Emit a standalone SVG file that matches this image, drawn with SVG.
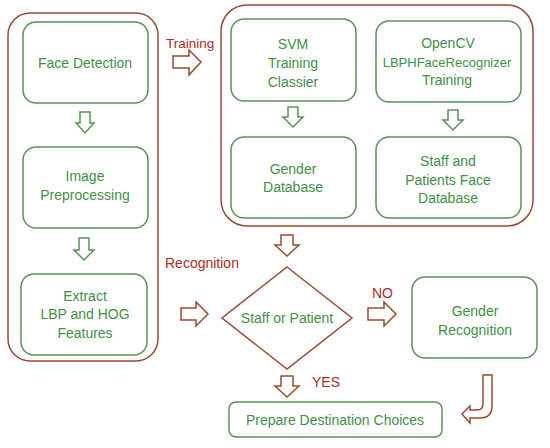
<svg xmlns="http://www.w3.org/2000/svg" width="550" height="448" viewBox="0 0 550 448">
<style>
.outer{fill:none;stroke:#9a4a32;stroke-width:1.5}
.box{fill:#fff;stroke:#5a925a;stroke-width:1.5}
.t{font-family:"Liberation Sans",Arial,sans-serif;font-size:14px;fill:#3f8f46;text-anchor:middle;dominant-baseline:central}
.lbl{font-family:"Liberation Sans",Arial,sans-serif;font-size:14px;fill:#b02a22;dominant-baseline:central}
.ga{fill:#fff;stroke:#5a925a;stroke-width:1.5;stroke-linejoin:miter}
.ba{fill:#fff;stroke:#9a4a32;stroke-width:1.5;stroke-linejoin:miter}
</style>
<rect width="550" height="448" fill="#fff"/>
<g id="left-group"><rect class="outer" x="8" y="13" width="150" height="348" rx="22"/></g>
<g id="right-group"><rect class="outer" x="221" y="5" width="312" height="221" rx="26"/></g>
<g id="face-detection"><rect class="box" x="23" y="22" width="125" height="81" rx="13"/><text class="t" x="85" y="63">Face Detection</text></g>
<g id="image-preprocessing"><rect class="box" x="23" y="147" width="125" height="81" rx="13"/><text class="t" x="85" y="176">Image</text><text class="t" x="85" y="195">Preprocessing</text></g>
<g id="extract"><rect class="box" x="21" y="274" width="126" height="81" rx="13"/><text class="t" x="85" y="296">Extract</text><text class="t" x="85" y="314">LBP and HOG</text><text class="t" x="85" y="333">Features</text></g>
<g id="svm"><rect class="box" x="231" y="19" width="125" height="82" rx="13"/><text class="t" x="293" y="44">SVM</text><text class="t" x="293" y="63">Training</text><text class="t" x="293" y="82">Classier</text></g>
<g id="opencv"><rect class="box" x="376" y="21" width="145" height="81" rx="13"/><text class="t" x="448" y="43">OpenCV</text><text class="t" x="447" y="62" style="font-size:13px">LBPHFaceRecognizer</text><text class="t" x="447" y="80">Training</text></g>
<g id="gender-db"><rect class="box" x="231" y="137" width="125" height="81" rx="13"/><text class="t" x="293" y="169">Gender</text><text class="t" x="293" y="187">Database</text></g>
<g id="face-db"><rect class="box" x="376" y="137" width="145" height="81" rx="13"/><text class="t" x="448" y="161">Staff and</text><text class="t" x="448" y="180">Patients Face</text><text class="t" x="448" y="198">Database</text></g>
<g id="decision"><polygon points="287,267 352,318 287,369 222,318" fill="#fff" stroke="#9a4a32" stroke-width="1.5"/><text class="t" x="287" y="318">Staff or Patient</text></g>
<g id="gender-recognition"><rect class="box" x="412" y="277" width="125" height="81" rx="13"/><text class="t" x="475" y="311">Gender</text><text class="t" x="475" y="330">Recognition</text></g>
<g id="prepare"><rect class="box" x="229" y="402" width="213" height="35" rx="7"/><text class="t" x="335" y="420">Prepare Destination Choices</text></g>
<g id="connectors">
<path class="ga" d="M80,112 H90 V123 H94 L85,133 L76,123 H80 Z"/>
<path class="ga" d="M79,238 H89 V250 H94 L84,260 L74,250 H79 Z"/>
<path class="ga" d="M288,107 H298 V117 H303 L293,127 L283,117 H288 Z"/>
<path class="ga" d="M448,110 H458 V120 H463 L453,130 L443,120 H448 Z"/>
<path class="ba" d="M281,235 H293 V245 H299 L287,256 L275,245 H281 Z"/>
<path class="ba" d="M281,376 H293 V386 H299 L287,397 L275,386 H281 Z"/>
<path class="ba" d="M173,56 H189 V50 L201,62 L189,75 V68 H173 Z"/>
<path class="ba" d="M181,308 H196 V302 L208,314 L196,326 V320 H181 Z"/>
<path class="ba" d="M368,308 H384 V302 L396,314 L384,326 V320 H368 Z"/>
<path class="ba" d="M483,375 H492 V406 Q492,418 480,418 H470 V423 L462,414 L470,406 V410 H477 Q483,410 483,404 Z"/>
<text class="lbl" x="166" y="43" style="font-size:13.5px">Training</text>
<text class="lbl" x="165" y="263">Recognition</text>
<text class="lbl" x="372" y="293">NO</text>
<text class="lbl" x="312" y="382">YES</text>
</g>
</svg>
